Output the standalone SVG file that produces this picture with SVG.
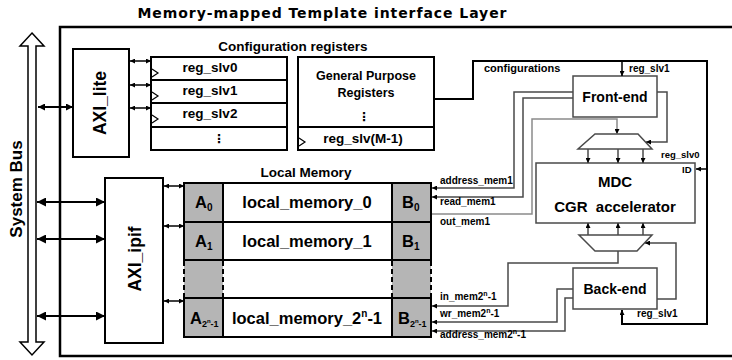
<svg xmlns="http://www.w3.org/2000/svg" width="732" height="360" viewBox="0 0 732 360">
<style>
.box{fill:#fff;stroke:#000;stroke-width:2}
.gbox{fill:#fff;stroke:#4a4a4a;stroke-width:1.5}
.t{font-family:"Liberation Sans",Arial,sans-serif;font-weight:bold;fill:#000}
.c{fill:none;stroke:#000;stroke-width:2}
.cs{fill:none;stroke:#000;stroke-width:1.5}
.g{fill:none;stroke:#4a4a4a;stroke-width:1.5}
.gl{fill:none;stroke:#8a8a8a;stroke-width:1.5}
.clk{fill:none;stroke:#000;stroke-width:1.2}
.gray{fill:#b5b5b5;stroke:none}
.dash{fill:none;stroke:#000;stroke-width:2;stroke-dasharray:5,3}
</style>
<defs>
<marker id="big" viewBox="0 0 10 10" refX="10" refY="5" markerWidth="10" markerHeight="9" markerUnits="userSpaceOnUse" orient="auto-start-reverse"><path d="M0,0 L10,5 L0,10 z" fill="#000"/></marker>
<marker id="med" viewBox="0 0 10 10" refX="10" refY="5" markerWidth="8" markerHeight="7" markerUnits="userSpaceOnUse" orient="auto-start-reverse"><path d="M0,0 L10,5 L0,10 z" fill="#000"/></marker>
<marker id="sm" viewBox="0 0 10 10" refX="10" refY="5" markerWidth="5" markerHeight="5" markerUnits="userSpaceOnUse" orient="auto-start-reverse"><path d="M0,0 L10,5 L0,10 z" fill="#000"/></marker>
</defs>
<rect x="0" y="0" width="732" height="360" fill="#fff"/>

<text class="t" x="322" y="18" text-anchor="middle" font-size="14" textLength="369" lengthAdjust="spacing" style="font-family:'DejaVu Sans',Verdana,sans-serif">Memory-mapped Template interface Layer</text>

<rect id="frame" x="60" y="27" width="700" height="329" fill="none" stroke="#000" stroke-width="2.5"/>

<g id="system-bus">
<polygon points="32,33 44,46 36,46 36,342 44,342 32,355 20,342 28,342 28,46 20,46" fill="#fff" stroke="#000" stroke-width="1.5"/>
<text class="t" font-size="17" text-anchor="middle" transform="translate(22,189) rotate(-90)">System Bus</text>
</g>

<g id="axi-lite">
<rect class="box" x="73" y="49" width="56" height="108"/>
<text class="t" font-size="17.5" text-anchor="middle" transform="translate(106,103) rotate(-90)">AXI_lite</text>
</g>

<g id="axi-ipif">
<rect class="box" x="105" y="178" width="58" height="165"/>
<text class="t" font-size="17.5" text-anchor="middle" transform="translate(141,259) rotate(-90)">AXI_ipif</text>
</g>

<g id="config-registers">
<text class="t" x="293" y="51" font-size="13.5" text-anchor="middle">Configuration registers</text>
<rect class="box" x="151" y="57" width="136" height="93"/>
<line class="c" x1="151" y1="80" x2="287" y2="80"/>
<line class="c" x1="151" y1="103" x2="287" y2="103"/>
<line class="c" x1="151" y1="127" x2="287" y2="127"/>
<polyline class="clk" points="152,69 158,73 152,77"/>
<polyline class="clk" points="152,92 158,96 152,100"/>
<polyline class="clk" points="152,115 158,119 152,123"/>
<text class="t" x="210" y="72" font-size="13.5" text-anchor="middle">reg_slv0</text>
<text class="t" x="210" y="95" font-size="13.5" text-anchor="middle">reg_slv1</text>
<text class="t" x="210" y="118" font-size="13.5" text-anchor="middle">reg_slv2</text>
<text x="219" y="143" font-size="12" text-anchor="middle" style="font-family:'DejaVu Sans',sans-serif;font-weight:bold">⋮</text>
</g>

<g id="gp-registers">
<rect class="box" x="298" y="57" width="136" height="93"/>
<line class="c" x1="298" y1="127" x2="434" y2="127"/>
<polyline class="clk" points="299,138 305,142 299,146"/>
<text class="t" x="366" y="80" font-size="12.5" text-anchor="middle">General Purpose</text>
<text class="t" x="366" y="97" font-size="12.5" text-anchor="middle">Registers</text>
<text x="364" y="121" font-size="12" text-anchor="middle" style="font-family:'DejaVu Sans',sans-serif;font-weight:bold">⋮</text>
<text class="t" x="363" y="143" font-size="13.5" text-anchor="middle">reg_slv(M-1)</text>
</g>

<g id="local-memory">
<text class="t" x="306" y="177" font-size="13.5" text-anchor="middle">Local Memory</text>
<rect class="gray" x="184" y="183" width="39" height="154"/>
<rect class="gray" x="392" y="183" width="39" height="154"/>
<rect class="box" x="223" y="183" width="169" height="77" style="stroke:none"/>
<rect class="box" x="223" y="260" width="169" height="38" style="stroke:none"/>
<rect class="box" x="223" y="298" width="169" height="39" style="stroke:none"/>
<rect class="c" x="184" y="183" width="247" height="77"/>
<line class="c" x1="184" y1="222" x2="431" y2="222"/>
<line class="c" x1="223" y1="183" x2="223" y2="260"/>
<line class="c" x1="392" y1="183" x2="392" y2="260"/>
<rect class="c" x="184" y="298" width="247" height="39"/>
<line class="c" x1="223" y1="298" x2="223" y2="337"/>
<line class="c" x1="392" y1="298" x2="392" y2="337"/>
<line class="dash" x1="184" y1="261" x2="184" y2="298"/>
<line class="dash" x1="223" y1="261" x2="223" y2="298"/>
<line class="dash" x1="392" y1="261" x2="392" y2="298"/>
<line class="dash" x1="431" y1="261" x2="431" y2="298"/>
<text class="t" x="195" y="208" font-size="16.5">A<tspan font-size="10" dy="3">0</tspan></text>
<text class="t" x="195" y="247" font-size="16.5">A<tspan font-size="10" dy="3">1</tspan></text>
<text class="t" x="190" y="324" font-size="16.5">A<tspan font-size="9" dy="3">2</tspan><tspan font-size="6" dy="-4">n</tspan><tspan font-size="9" dy="4">-1</tspan></text>
<text class="t" x="402" y="208" font-size="16.5">B<tspan font-size="10" dy="3">0</tspan></text>
<text class="t" x="402" y="247" font-size="16.5">B<tspan font-size="10" dy="3">1</tspan></text>
<text class="t" x="398" y="324" font-size="16.5">B<tspan font-size="9" dy="3">2</tspan><tspan font-size="6" dy="-4">n</tspan><tspan font-size="9" dy="4">-1</tspan></text>
<text class="t" x="307" y="208" font-size="16.5" text-anchor="middle">local_memory_0</text>
<text class="t" x="307" y="247" font-size="16.5" text-anchor="middle">local_memory_1</text>
<text class="t" x="307" y="324" font-size="16.5" text-anchor="middle">local_memory_2<tspan font-size="10" dy="-7">n</tspan><tspan dy="7">-1</tspan></text>
</g>

<g id="front-end">
<rect class="gbox" x="573" y="76" width="84" height="41"/>
<text class="t" x="615" y="102" font-size="14" text-anchor="middle">Front-end</text>
</g>

<g id="mux-top">
<polygon class="gbox" points="595,134 638,134 652,149 578,149"/>
</g>

<g id="mdc">
<rect class="gbox" x="536" y="163" width="159" height="60"/>
<text class="t" x="615" y="187" font-size="15" text-anchor="middle">MDC</text>
<text class="t" x="615" y="212" font-size="15" text-anchor="middle">CGR&#160; accelerator</text>
<text class="t" x="682" y="173" font-size="9.5">ID</text>
</g>

<g id="mux-bottom">
<polygon class="gbox" points="579,235 652,235 637,251 595,251"/>
</g>

<g id="back-end">
<rect class="gbox" x="573" y="268" width="84" height="41"/>
<text class="t" x="615" y="294" font-size="14" text-anchor="middle">Back-end</text>
</g>

<g id="connectors">
<line class="c" x1="38" y1="107" x2="73" y2="107" marker-start="url(#med)" marker-end="url(#med)"/>
<line class="c" x1="37" y1="202" x2="105" y2="202" marker-start="url(#big)" marker-end="url(#big)"/>
<line class="c" x1="37" y1="239" x2="105" y2="239" marker-start="url(#big)" marker-end="url(#big)"/>
<line class="c" x1="37" y1="316" x2="105" y2="316" marker-start="url(#big)" marker-end="url(#big)"/>
<line class="cs" x1="130" y1="61" x2="151" y2="61" marker-start="url(#sm)" marker-end="url(#sm)"/>
<line class="cs" x1="130" y1="85" x2="151" y2="85" marker-start="url(#sm)" marker-end="url(#sm)"/>
<line class="cs" x1="130" y1="108" x2="151" y2="108" marker-start="url(#sm)" marker-end="url(#sm)"/>
<line class="cs" x1="164" y1="186" x2="184" y2="186" marker-start="url(#sm)" marker-end="url(#sm)"/>
<line class="cs" x1="164" y1="226" x2="184" y2="226" marker-start="url(#sm)" marker-end="url(#sm)"/>
<line class="cs" x1="164" y1="301" x2="184" y2="301" marker-start="url(#sm)" marker-end="url(#sm)"/>

<polyline class="c" points="434,99 473,99 473,61 707,61 707,324 622,324 622,310" marker-end="url(#sm)"/>
<line class="cs" x1="622" y1="61" x2="622" y2="76" marker-end="url(#sm)"/>
<line class="cs" x1="707" y1="169" x2="696" y2="169" marker-end="url(#sm)"/>

<polyline class="g" points="573,92 514,92 514,188 432,188" marker-end="url(#sm)"/>
<polyline class="g" points="573,98 523,98 523,197 432,197" marker-end="url(#sm)"/>
<polyline class="gl" points="432,214 532,214 532,119 617,119 617,134" marker-end="url(#sm)"/>
<polyline class="g" points="657,92 667,92 667,142 646,142" marker-end="url(#sm)"/>
<line class="g" x1="588" y1="149" x2="588" y2="163" marker-end="url(#sm)"/>
<line class="g" x1="618" y1="149" x2="618" y2="163" marker-end="url(#sm)"/>
<line class="g" x1="643" y1="149" x2="643" y2="163" marker-end="url(#sm)"/>
<line class="g" x1="588" y1="235" x2="588" y2="223" marker-end="url(#sm)"/>
<line class="g" x1="618" y1="235" x2="618" y2="223" marker-end="url(#sm)"/>
<line class="g" x1="643" y1="235" x2="643" y2="223" marker-end="url(#sm)"/>
<polyline class="g" points="657,299 676,299 676,243 645,243" marker-end="url(#sm)"/>
<polyline class="g" points="618,251 618,263 508,263 508,306 432,306" marker-end="url(#sm)"/>
<polyline class="g" points="573,289 557,289 557,322 432,322" marker-end="url(#sm)"/>
<polyline class="g" points="573,298 565,298 565,331 432,331" marker-end="url(#sm)"/>

<text class="t" x="484" y="72" font-size="11">configurations</text>
<text class="t" x="629" y="72" font-size="10">reg_slv1</text>
<text class="t" x="661" y="158" font-size="9.5">reg_slv0</text>
<text class="t" x="440" y="184" font-size="10">address_mem1</text>
<text class="t" x="440" y="205" font-size="10">read_mem1</text>
<text class="t" x="440" y="225" font-size="10">out_mem1</text>
<text class="t" x="440" y="300" font-size="10">in_mem2<tspan font-size="7" dy="-4">n</tspan><tspan dy="4">-1</tspan></text>
<text class="t" x="440" y="317" font-size="10">wr_mem2<tspan font-size="7" dy="-4">n</tspan><tspan dy="4">-1</tspan></text>
<text class="t" x="440" y="338" font-size="10">address_mem2<tspan font-size="7" dy="-4">n</tspan><tspan dy="4">-1</tspan></text>
<text class="t" x="637" y="317" font-size="10">reg_slv1</text>
</g>
</svg>
